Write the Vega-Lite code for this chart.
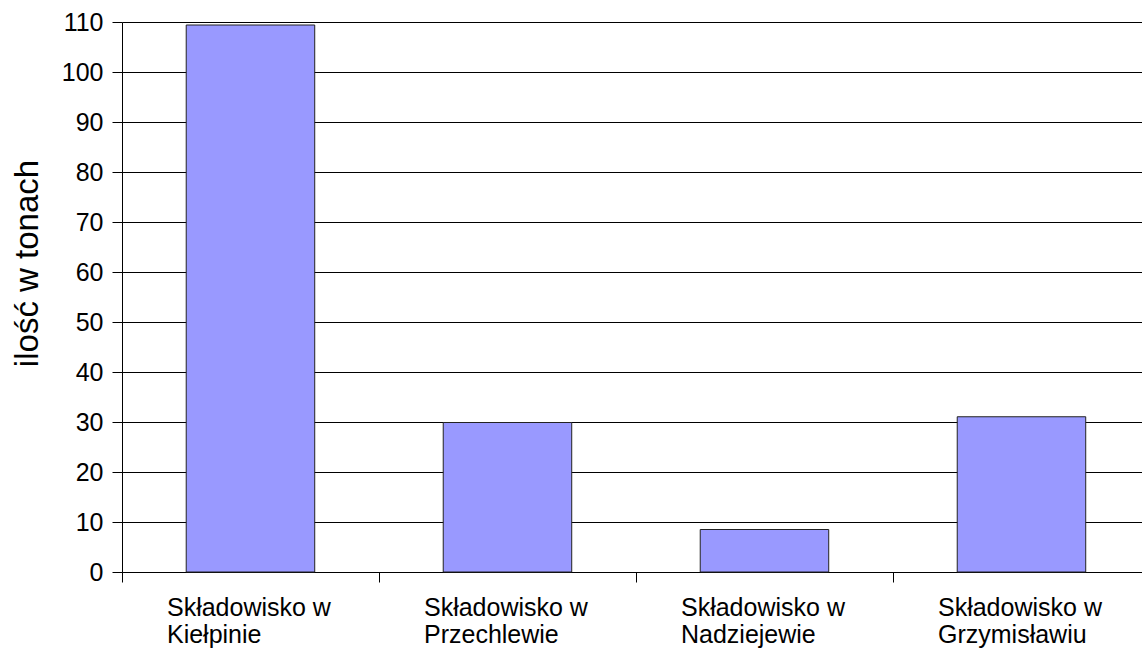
{
  "$schema": "https://vega.github.io/schema/vega-lite/v6.json",
  "autosize": "none",
  "width": 1020,
  "height": 550,
  "padding": {"left": 122, "top": 22, "right": 0, "bottom": 77},
  "background": "white",
  "config": {
    "view": {"stroke": null},
    "font": "Liberation Sans"
  },
  "data": {
    "values": [
      {"site": "Składowisko w Kiełpinie", "tons": 109.4},
      {"site": "Składowisko w Przechlewie", "tons": 29.9},
      {"site": "Składowisko w Nadziejewie", "tons": 8.5},
      {"site": "Składowisko w Grzymisławiu", "tons": 31.05}
    ]
  },
  "mark": {"type": "bar", "color": "#9999ff", "stroke": "#222222", "strokeWidth": 1},
  "encoding": {
    "x": {
      "field": "site",
      "type": "nominal",
      "sort": null,
      "scale": {"paddingInner": 0.5, "paddingOuter": 0.2344, "align": 0.533},
      "axis": {
        "title": null,
        "labelAngle": 0,
        "labelExpr": "['Składowisko w', replace(datum.value, 'Składowisko w ', '')]",
        "labelAlign": "left",
        "tickOffset": -128.5,
        "labelOffset": 44.5,
        "labelBaseline": "alphabetic",
        "labelFontSize": 25,
        "labelColor": "#000",
        "labelLineHeight": 27,
        "labelPadding": 33,
        "tickSize": 10,
        "tickColor": "#000",
        "domainColor": "#000",
        "labelOverlap": false,
        "labelLimit": 400
      }
    },
    "y": {
      "field": "tons",
      "type": "quantitative",
      "scale": {"domain": [0, 110], "nice": false},
      "axis": {
        "title": "ilość w tonach",
        "values": [0, 10, 20, 30, 40, 50, 60, 70, 80, 90, 100, 110],
        "labelFontSize": 25,
        "labelColor": "#000",
        "labelPadding": 9,
        "tickSize": 10,
        "tickColor": "#000",
        "domainColor": "#000",
        "gridColor": "#000",
        "gridOpacity": 1,
        "titleFontSize": 33,
        "titleFontWeight": "normal",
        "titleColor": "#000",
        "titleAngle": -90,
        "titleAlign": "center",
        "titleBaseline": "middle",
        "titleX": -95,
        "titleY": 241
      }
    }
  }
}
